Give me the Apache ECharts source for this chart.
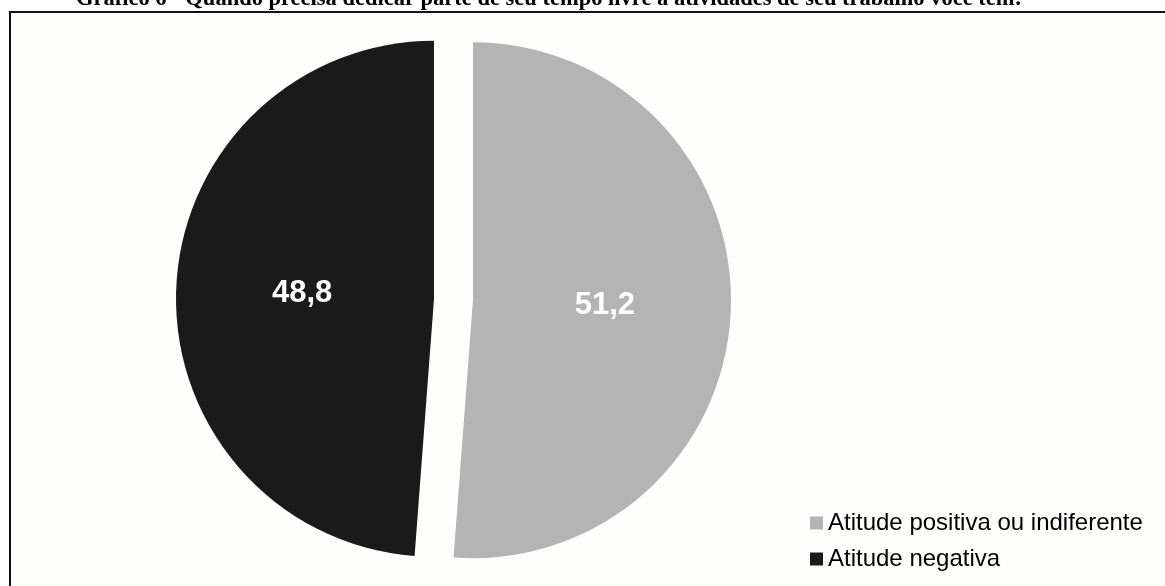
<!DOCTYPE html>
<html>
<head>
<meta charset="utf-8">
<script src="https://cdn.jsdelivr.net/npm/echarts@6/dist/echarts.min.js"></script>
<style>
  html, body { margin: 0; padding: 0; background: #ffffff; }
  #chart { width: 1165px; height: 586px; }
</style>
</head>
<body>
<div id="chart"></div>
<script>
// Survey answers (percent)
const titleText = 'Gráfico 6 - Quando precisa dedicar parte de seu tempo livre a atividades de seu trabalho você tem:';
const categories = ['Atitude positiva ou indiferente', 'Atitude negativa'];
const values = [51.2, 48.8];
const colors = ['#b3b4b3', '#1a1a1a'];
// extra top padding per value label (pushes the text down by half of it)
const labelPadTop = [16, 0];

const chart = echarts.init(document.getElementById('chart'), null, { renderer: 'canvas' });

const pieData = categories.map((name, i) => ({
  name: name,
  value: values[i],
  selected: true,
  itemStyle: { color: colors[i] },
  label: { padding: [labelPadTop[i], 0, 0, 0] }
}));

chart.setOption({
  backgroundColor: '#ffffff',
  animation: false,
  title: {
    text: titleText,
    left: 549,
    textAlign: 'center',
    top: -12,
    padding: 0,
    textStyle: {
      fontFamily: '"Liberation Serif", "Times New Roman", serif',
      fontWeight: 'bold',
      fontSize: 22.5,
      color: '#000000'
    }
  },
  graphic: [{
    type: 'rect',
    z: -10,
    shape: { x: 10, y: 12, width: 1200, height: 620 },
    style: { fill: '#fefefc', stroke: '#111111', lineWidth: 2 }
  }],
  legend: {
    orient: 'vertical',
    left: 805,
    top: 506,
    icon: 'rect',
    itemWidth: 13,
    itemHeight: 13,
    itemGap: 12,
    selectedMode: false,
    textStyle: {
      fontFamily: 'Arial, "Liberation Sans", sans-serif',
      fontSize: 24,
      color: '#000000'
    },
    data: categories
  },
  series: [{
    type: 'pie',
    center: [453.5, 299.5],
    radius: 258,
    startAngle: 90,
    clockwise: true,
    selectedMode: 'multiple',
    selectedOffset: 19.5,
    itemStyle: { borderWidth: 0 },
    emphasis: { disabled: true },
    label: {
      show: true,
      position: 'inner',
      color: '#ffffff',
      fontFamily: 'Arial, "Liberation Sans", sans-serif',
      fontWeight: 'bold',
      fontSize: 31,
      formatter: p => p.value.toFixed(1).replace('.', ',')
    },
    labelLine: { show: false },
    data: pieData
  }]
});
</script>
</body>
</html>
